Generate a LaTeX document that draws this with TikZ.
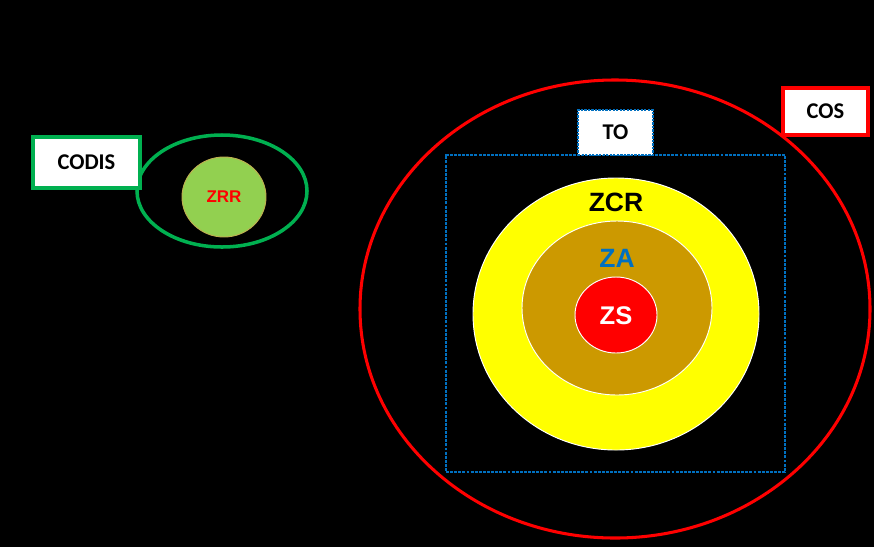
\documentclass[tikz,border=0pt]{standalone}
\usepackage{fontspec}
\setmainfont{Liberation Sans}
\newfontfamily\boxfont{Carlito}
\usetikzlibrary{shapes.geometric}
\definecolor{cosred}{RGB}{255,0,0}
\definecolor{codisgreen}{RGB}{0,176,80}
\definecolor{zrrgreen}{RGB}{146,208,80}
\definecolor{zrrline}{RGB}{190,175,80}
\definecolor{zcryellow}{RGB}{255,255,0}
\definecolor{zagold}{RGB}{204,153,0}
\definecolor{toblue}{RGB}{0,112,192}
\begin{document}
\begin{tikzpicture}[x=0.03cm,y=-0.03cm,
  tag/.style={draw,fill=white,inner sep=0pt,font=\boxfont\bfseries\fontsize{19.2}{22}\selectfont},
  zone/.style={ellipse,inner sep=0pt},
  zname/.style={font=\bfseries\fontsize{22.6}{26}\selectfont}]
\fill[black] (0,0) rectangle (874,547);
% COS area
\node[zone,draw=cosred,line width=2.6pt,minimum width=15.3cm,minimum height=13.74cm] (cos area) at (615,309) {};
\node[tag,draw=cosred,line width=2.8pt,minimum width=2.55cm,minimum height=1.41cm] (cos) at (825.5,111.5) {COS};
% TO square
\node[draw=toblue,line width=2pt,dash pattern=on 2.5pt off 1pt,minimum width=10.17cm,minimum height=9.51cm] (to area) at (615.5,313.5) {};
\node[tag,draw=toblue,line width=1.4pt,dash pattern=on 2pt off 1pt,minimum width=2.25cm,minimum height=1.35cm] (to) at (615.5,132.5) {TO};
% zones
\node[zone,fill=zcryellow,draw=white,line width=0.8pt,minimum width=8.58cm,minimum height=8.16cm] (zcr) at (616,314) {};
\node[zone,fill=zagold,draw=white,line width=0.8pt,minimum width=5.7cm,minimum height=5.22cm] (za) at (617,308) {};
\node[zone,fill=cosred,draw=white,line width=0.8pt,minimum width=2.46cm,minimum height=2.28cm] (zs) at (616,315) {};
\node[zname,text=black] (zcr text) at (616,202) {ZCR};
\node[zname,text=toblue] (za text) at (617,258) {ZA};
\node[zname,text=white,font=\bfseries\fontsize{21.8}{25}\selectfont] (zs text) at (616,316) {ZS};
% CODIS
\node[zone,draw=codisgreen,line width=3pt,minimum width=5.1cm,minimum height=3.36cm] (codis area) at (222,191) {};
\node[zone,fill=zrrgreen,draw=zrrline,line width=0.8pt,minimum width=2.52cm,minimum height=2.4cm,text=cosred,font=\bfseries\fontsize{14.5}{17}\selectfont] (zrr) at (224,197) {ZRR};
\node[tag,draw=codisgreen,line width=3.4pt,minimum width=3.21cm,minimum height=1.53cm] (codis) at (86.5,162.5) {CODIS};
\end{tikzpicture}
\end{document}
